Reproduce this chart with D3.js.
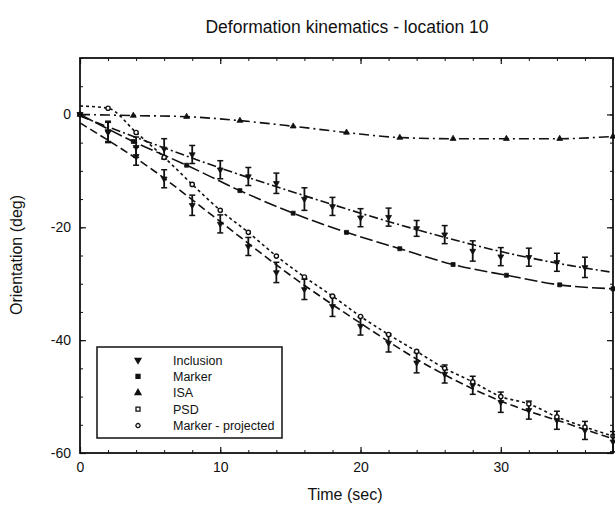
<!DOCTYPE html>
<html>
<head>
<meta charset="utf-8">
<script src="https://cdn.jsdelivr.net/npm/d3@7"></script>
<style>
  body { margin: 0; background: #fff; }
  text { font-family: "Liberation Sans Narrow", "Liberation Sans", Arial, sans-serif; fill: #111; }
</style>
</head>
<body>
<script>
// time points
var tEven = [0, 2, 4, 6, 8, 10, 12, 14, 16, 18, 20, 22, 24, 26, 28, 30, 32, 34, 36, 38];
var tMarker = [0, 3.8, 7.6, 11.4, 15.2, 19, 22.8, 26.6, 30.4, 34.2, 38];

// inclusion (upper, dash-dot) with error bars
var inclA = [0, -3, -5.8, -6.1, -7.1, -9.8, -11, -12.2, -15, -16.3, -18.3, -18.2, -20.2, -21.3, -24.2, -25.2, -25.3, -26.2, -27.1, null];
var errA = [0, 1.8, 1.8, 1.8, 1.6, 1.6, 1.6, 1.8, 2, 1.6, 1.6, 1.6, 1.4, 1.6, 1.8, 1.6, 1.6, 1.6, 1.8, 0];
var fitT = [0, 5, 10, 15, 20, 25, 30, 35, 38];
var fitA = [-0.3, -5, -9.5, -13.6, -17.5, -21.1, -24.3, -26.8, -28];

// inclusion (lower, dashed) with error bars
var inclB = [0, -3.2, -7.4, -11.4, -16.1, -19.4, -23.4, -28, -31, -34, -37.5, -40.5, -44, -46, -48, -51, -52.4, -54.2, -56, -58];
var errB = [0, 1.8, 1.6, 1.6, 1.8, 1.6, 1.6, 1.8, 1.8, 1.8, 1.6, 1.6, 1.8, 1.6, 1.6, 1.8, 1.6, 1.6, 1.6, 1.8];
var fitB = [-1.5, -9.5, -19, -28.5, -37, -44.8, -50.8, -55, -57.5];

// marker (long dash)
var marker = [0, -4.8, -9, -13.5, -17.5, -20.9, -23.8, -26.6, -28.5, -30.2, -30.9];
// ISA
var isa = [0, -0.2, -0.4, -1.1, -2.1, -3.2, -4.1, -4.3, -4.3, -4.3, -3.9];
// marker projected (dotted)
var projT = [0, 2, 4, 6, 8, 10, 12, 14, 16, 18, 20, 22, 24, 26, 28, 30, 32, 34, 36, 38];
var proj = [1.5, 1.1, -3.2, -7.6, -12.4, -17, -20.9, -25.1, -28.8, -32.2, -35.8, -39, -42, -45, -47.4, -50, -51.3, -53.6, -55.4, -57];

var legendLabels = ["Inclusion", "Marker", "ISA", "PSD", "Marker - projected"];
var legendSymbols = ["tri-down", "square", "tri-up", "open-square", "open-circle"];

var W = 615, H = 518;
var x = d3.scaleLinear().domain([0, 38]).range([80, 613]);
var y = d3.scaleLinear().domain([-60, 10]).range([453, 58]);

var svg = d3.select("body").append("svg")
    .attr("width", W)
    .attr("height", H);

function pts(ts, vs) {
    return ts.map(function (t, i) { return { t: t, v: vs[i] }; }).filter(function (d) { return d.v !== null; });
}

var line = d3.line()
    .x(function (d) { return x(d.t); })
    .y(function (d) { return y(d.v); })
    .curve(d3.curveMonotoneX);

var plot = svg.append("g");

// curves
var curves = [
    { data: pts(fitT, fitA), dash: "9,3,2,3" },
    { data: pts(fitT, fitB), dash: "8,4" },
    { data: pts(tMarker, marker), dash: "13,4" },
    { data: pts(tMarker, isa), dash: "10,4,2,4" },
    { data: pts(projT, proj), dash: "3,3" }
];
plot.selectAll("path.curve")
    .data(curves)
    .enter().append("path")
    .attr("class", "curve")
    .attr("d", function (d) { return line(d.data); })
    .attr("fill", "none")
    .attr("stroke", "#111")
    .attr("stroke-width", 1.6)
    .attr("stroke-dasharray", function (d) { return d.dash; });

// error bars
function errorBars(ts, vs, es) {
    var d = ts.map(function (t, i) { return { t: t, v: vs[i], e: es[i] }; })
        .filter(function (p) { return p.v !== null && p.e > 0; });
    var g = plot.append("g").selectAll("g").data(d).enter().append("g");
    g.append("line")
        .attr("x1", function (p) { return x(p.t); }).attr("x2", function (p) { return x(p.t); })
        .attr("y1", function (p) { return y(p.v + p.e); }).attr("y2", function (p) { return y(p.v - p.e); })
        .attr("stroke", "#111").attr("stroke-width", 1.8);
    [1, -1].forEach(function (s) {
        g.append("line")
            .attr("x1", function (p) { return x(p.t) - 3; }).attr("x2", function (p) { return x(p.t) + 3; })
            .attr("y1", function (p) { return y(p.v + s * p.e); }).attr("y2", function (p) { return y(p.v + s * p.e); })
            .attr("stroke", "#111").attr("stroke-width", 1.5);
    });
}
errorBars(tEven, inclA, errA);
errorBars(tEven, inclB, errB);

function symbolPath(kind) {
    if (kind === "tri-down") return d3.symbol().type(d3.symbolTriangle).size(15)();
    if (kind === "tri-up") return d3.symbol().type(d3.symbolTriangle).size(15)();
    if (kind === "square" || kind === "open-square") return d3.symbol().type(d3.symbolSquare).size(16)();
    return d3.symbol().type(d3.symbolCircle).size(14)();
}
function drawSymbols(g, data, kind) {
    g.selectAll("path.sym").data(data).enter().append("path")
        .attr("class", "sym")
        .attr("d", symbolPath(kind))
        .attr("transform", function (d) {
            return "translate(" + x(d.t) + "," + y(d.v) + ")" + (kind === "tri-down" ? " rotate(180)" : "");
        })
        .attr("fill", kind.indexOf("open") === 0 ? "#fff" : "#111")
        .attr("stroke", "#111")
        .attr("stroke-width", kind.indexOf("open") === 0 ? 1.4 : 0.8);
}
drawSymbols(plot.append("g"), pts(tEven, inclA), "tri-down");
drawSymbols(plot.append("g"), pts(tEven, inclB), "tri-down");
drawSymbols(plot.append("g"), pts(tMarker, marker), "square");
drawSymbols(plot.append("g"), pts(tMarker, isa), "tri-up");
drawSymbols(plot.append("g"), pts(projT, proj).slice(1), "open-circle");

// axes (ticks inward, all four sides)
var xMinor = d3.range(0, 39, 2), yMinor = d3.range(-60, 11, 5);
var fmt = function (d) { return d < 0 ? "-" + Math.abs(d) : String(d); };
function addAxis(axisFn, scale, pos, minor, major, labels) {
    svg.append("g")
        .attr("transform", pos)
        .call(axisFn(scale).tickValues(minor).tickSize(-3).tickFormat(""))
        .call(function (g) { g.select(".domain").remove(); g.selectAll("line").attr("stroke", "#111"); });
    var gm = svg.append("g")
        .attr("transform", pos)
        .call(axisFn(scale).tickValues(major).tickSize(-6).tickPadding(9)
            .tickFormat(labels ? fmt : ""));
    gm.select(".domain").remove();
    gm.selectAll("line").attr("stroke", "#111").attr("stroke-width", 1.2);
    gm.selectAll("text").style("font-size", "14px")
        .style("font-family", "'Liberation Sans Narrow','Liberation Sans',Arial,sans-serif").attr("fill", "#111");
}
addAxis(d3.axisBottom, x, "translate(0,453)", xMinor, [0, 10, 20, 30], true);
addAxis(d3.axisTop, x, "translate(0,58)", xMinor, [0, 10, 20, 30], false);
addAxis(d3.axisLeft, y, "translate(80,0)", yMinor, [-60, -40, -20, 0], true);
addAxis(d3.axisRight, y, "translate(613,0)", yMinor, [-60, -40, -20, 0], false);

// frame
svg.append("rect")
    .attr("x", 80).attr("y", 58).attr("width", 533).attr("height", 395)
    .attr("fill", "none").attr("stroke", "#111").attr("stroke-width", 1.8);

// legend
var lg = svg.append("g");
lg.append("rect")
    .attr("x", 97).attr("y", 347).attr("width", 185).attr("height", 91)
    .attr("fill", "#fff").attr("stroke", "#111").attr("stroke-width", 1.5);
var items = lg.selectAll("g.item").data(legendLabels).enter().append("g")
    .attr("class", "item")
    .attr("transform", function (d, i) { return "translate(0," + (360 + i * 16.4) + ")"; });
items.append("path")
    .attr("d", function (d, i) { return symbolPath(legendSymbols[i]); })
    .attr("transform", function (d, i) { return "translate(138,0)" + (legendSymbols[i] === "tri-down" ? " rotate(180)" : ""); })
    .attr("fill", function (d, i) { return legendSymbols[i].indexOf("open") === 0 ? "#fff" : "#111"; })
    .attr("stroke", "#111").attr("stroke-width", 1.3);
items.append("text")
    .attr("x", 173).attr("y", 4.5)
    .style("font-size", "12.5px")
    .text(function (d) { return d; });

// titles
svg.append("text")
    .attr("x", 347).attr("y", 33)
    .attr("text-anchor", "middle")
    .style("font-size", "17.5px")
    .text("Deformation kinematics - location 10");
svg.append("text")
    .attr("x", 345).attr("y", 500)
    .attr("text-anchor", "middle")
    .style("font-size", "16px")
    .text("Time (sec)");
svg.append("text")
    .attr("transform", "translate(22,255) rotate(-90)")
    .attr("text-anchor", "middle")
    .style("font-size", "16px")
    .text("Orientation (deg)");
</script>
</body>
</html>
